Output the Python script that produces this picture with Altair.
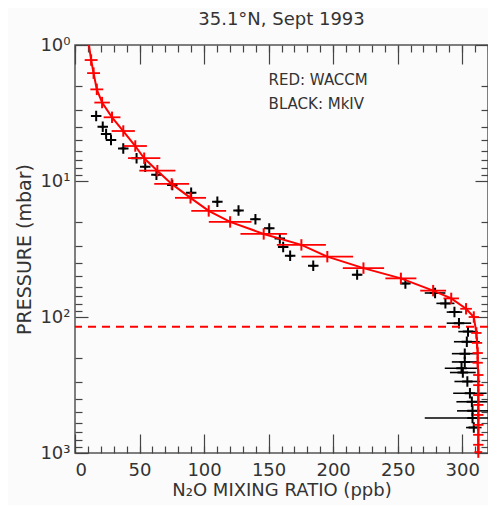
import altair as alt
import pandas as pd

# ---------------- data ----------------
# WACCM (red) profile: N2O mixing ratio (ppb), pressure (mbar), half error bar (ppb)
waccm_x = [12.5, 14.4, 16.9, 21.0, 28.7, 37.4, 46.7, 53.6, 63.8, 74.9, 89.5, 103.6,
           120.2, 146.2, 175.4, 195.5, 223.5, 252.5, 277.5, 291.5, 303.0, 309.0,
           311.0, 311.5, 312.0, 312.0, 312.5, 312.5, 312.5, 312.5, 312.5, 312.5,
           312.5, 312.5, 312.5]
waccm_p = [1.29, 1.61, 2.12, 2.65, 3.4, 4.29, 5.53, 6.8, 8.4, 10.5, 13.3, 16.6,
           20.0, 24.5, 29.5, 36.0, 43.7, 52.0, 64.0, 73.0, 87.0, 100.0,
           131, 155, 184, 217, 267, 317, 375, 443, 525, 621, 735, 870, 985]
waccm_err = [5, 5, 5, 6, 6.5, 9, 9, 12.5, 14, 13.5, 12, 13.5,
             16.5, 18, 19, 20, 16, 12, 10, 6, 4.5, 4,
             4, 4, 4, 4, 4, 4, 4, 4, 4, 4, 4, 4, 3]
waccm_top_x = [10.8]
waccm_top_p = [1.0]

# MkIV (black) profile
mkiv_x = [16.4, 21.5, 24.1, 27.9, 37.4, 47.7, 54.4, 63.1, 75.4, 90.0, 110.3, 126.7,
          139.8, 150.5, 158.7, 161.3, 166.7, 184.6, 218.6, 256.0, 279.0, 287.0,
          294.0, 297.5, 304.5, 303.6, 302.0, 302.0, 299.5, 300.5, 304.0, 306.0,
          307.5, 308.0, 308.0, 309.0]
mkiv_p = [3.33, 3.99, 4.51, 4.99, 5.76, 6.8, 7.85, 9.0, 10.7, 12.2, 14.2, 16.5,
          19.1, 22.3, 26.5, 30.6, 35.5, 42.0, 48.8, 56.7, 66.6, 79.4,
          92, 111, 128, 152, 186, 214, 238, 256, 298, 364,
          420, 490, 553, 650]
mkiv_err = [2, 2, 2, 2, 2, 2, 2, 2, 2, 2, 2, 2,
            2, 2, 2, 2, 2, 2, 3, 3, 8, 7,
            6, 9.5, 7.5, 10, 10, 10, 13, 10, 10, 13,
            12, 12, 37, 6]

tropopause_p = [118]

note_text = ["RED:  WACCM", "BLACK:  MkIV"]
note_x = [150, 150]
note_p = [1.81, 2.72]

x_major = [0, 50, 100, 150, 200, 250, 300]
x_minor = list(range(0, 321, 10))
y_major = [1, 10, 100, 1000]
y_minor = [k * 10 ** d for d in range(3) for k in range(2, 10)]
y_tick_labels = ["10⁰", "10¹", "10²", "10³"]

# ---------------- frames ----------------
waccm = pd.DataFrame({"x": waccm_x, "p": waccm_p,
                      "lo": [a - e for a, e in zip(waccm_x, waccm_err)],
                      "hi": [a + e for a, e in zip(waccm_x, waccm_err)]})
wline = pd.DataFrame({"x": waccm_top_x + waccm_x, "p": waccm_top_p + waccm_p})
mkiv = pd.DataFrame({"x": mkiv_x, "p": mkiv_p,
                     "lo": [a - e for a, e in zip(mkiv_x, mkiv_err)],
                     "hi": [a + e for a, e in zip(mkiv_x, mkiv_err)]})
trop = pd.DataFrame({"p": tropopause_p})
notes = pd.DataFrame({"t": note_text, "x": note_x, "p": note_p})

FONT = "DejaVu Sans"
TXT = "#333333"
AX = "#444444"

xs = alt.Scale(domain=[0, 320], nice=False, zero=False)
ys = alt.Scale(type="log", domain=[1, 1000], reverse=True, nice=False)

label_expr = " : ".join(
    f"datum.value == {v} ? '{t}'" for v, t in zip(y_major[:-1], y_tick_labels[:-1])
) + f" : '{y_tick_labels[-1]}'"

common = dict(grid=False, tickColor=AX, tickWidth=1.2)

ax_x_main = alt.Axis(orient="bottom", values=x_major, ticks=False, domain=False,
                     labelPadding=8, labelFontSize=18, labelFont=FONT, labelColor=TXT,
                     title="N₂O MIXING RATIO (ppb)", titleFontSize=18, titleFont=FONT,
                     titleColor=TXT, titleFontWeight="normal", titlePadding=2, grid=False)
ax_y_main = alt.Axis(orient="left", values=y_major, ticks=False, domain=False,
                     labelPadding=5, labelFontSize=18, labelFont=FONT, labelColor=TXT,
                     labelExpr=label_expr,
                     title="PRESSURE (mbar)", titleFontSize=19, titleFont=FONT,
                     titleColor=TXT, titleFontWeight="normal", titlePadding=5, grid=False)


def tick_axis(orient, values, size):
    return alt.Axis(orient=orient, values=values, labels=False, domain=False,
                    tickSize=size, offset=-size, title=None, **common)


layers = []

# black error bars
layers.append(alt.Chart(mkiv).mark_rule(color="black", strokeWidth=1.6, clip=True).encode(
    x=alt.X("lo:Q", scale=xs, axis=ax_x_main),
    x2="hi:Q",
    y=alt.Y("p:Q", scale=ys, axis=ax_y_main)))

# black plus symbols
layers.append(alt.Chart(mkiv).mark_point(shape="M-1,0L1,0M0,-1L0,1", size=110,
                                         color="black", strokeWidth=2, filled=False,
                                         opacity=1).encode(
    x=alt.X("x:Q", scale=xs, axis=tick_axis("bottom", x_major, 19)),
    y=alt.Y("p:Q", scale=ys, axis=tick_axis("left", y_major, 13))))

# red model line
layers.append(alt.Chart(wline).mark_line(color="red", strokeWidth=2).encode(
    x=alt.X("x:Q", scale=xs, axis=tick_axis("bottom", x_minor, 7)),
    y=alt.Y("p:Q", scale=ys, axis=tick_axis("left", y_minor, 7)),
    order="p:Q"))

# red error bars
layers.append(alt.Chart(waccm).mark_rule(color="red", strokeWidth=1.8, clip=True).encode(
    x=alt.X("lo:Q", scale=xs, axis=tick_axis("top", x_major, 19)),
    x2="hi:Q",
    y=alt.Y("p:Q", scale=ys, axis=tick_axis("right", y_major, 13))))

# red vertical ticks
layers.append(alt.Chart(waccm).mark_point(shape="M0,-1L0,1", size=130, color="red",
                                          strokeWidth=2, filled=False, opacity=1).encode(
    x=alt.X("x:Q", scale=xs, axis=tick_axis("top", x_minor, 7)),
    y=alt.Y("p:Q", scale=ys, axis=tick_axis("right", y_minor, 7))))

# tropopause dashed line
layers.append(alt.Chart(trop).mark_rule(color="red", strokeWidth=2,
                                        strokeDash=[8, 6]).encode(
    y=alt.Y("p:Q", scale=ys, axis=None)))

# annotation text
layers.append(alt.Chart(notes).mark_text(align="left", baseline="middle", font=FONT,
                                         fontSize=15, color=TXT).encode(
    x=alt.X("x:Q", scale=xs, axis=None),
    y=alt.Y("p:Q", scale=ys, axis=None),
    text="t:N"))

chart = alt.layer(*layers).resolve_axis(x="independent", y="independent").properties(
    width=413, height=408,
    title=alt.TitleParams("35.1°N, Sept 1993", fontSize=18, font=FONT,
                          fontWeight="normal", color=TXT, anchor="middle", offset=7),
    autosize=alt.AutoSizeParams(type="none"),
    padding={"left": 67, "top": 37, "right": 0, "bottom": 52},
    background="#fbfbfb",
).configure_view(stroke="#555555", strokeWidth=1.5)

chart.save("out.html", embed_options={"renderer": "svg", "actions": False})
